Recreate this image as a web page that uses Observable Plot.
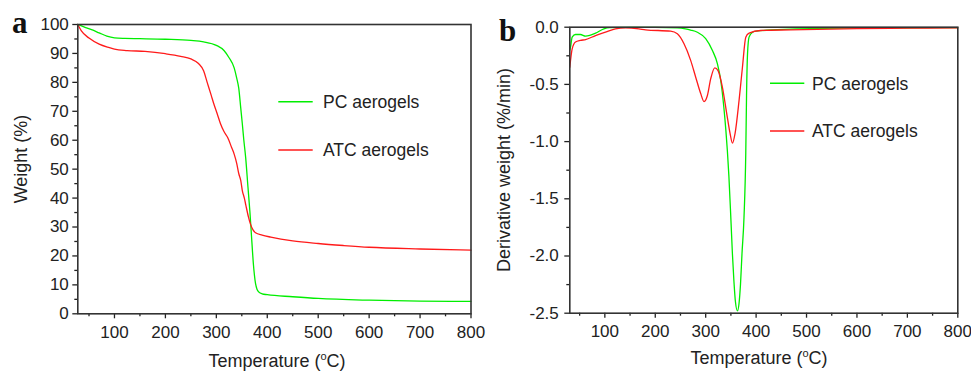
<!DOCTYPE html>
<html><head><meta charset="utf-8">
<script src="https://cdn.jsdelivr.net/npm/d3@7"></script>
<script src="https://cdn.jsdelivr.net/npm/@observablehq/plot@0.6"></script>
<style>
body{margin:0;background:#fff;}
#wrap{position:relative;width:971px;height:371px;font-family:"Liberation Sans",Arial,sans-serif;background:#fff;overflow:hidden;}
#wrap > svg{position:absolute;top:0;margin:0;}
</style></head><body><div id="wrap"></div>
<script>
// ---------- Data ----------
const seriesNames = ["PC aerogels", "ATC aerogels"];
const seriesColors = ["#00ee00", "#ff1a1a"];

// Panel a: TGA weight (%)
const pcTgaT = [28,40,55,70,85,100,120,150,200,250,275,300,315,325,335,340,344,348,351,354,357.6,362,366,369,372.7,377,380,383.7,390,400,450,500,600,700,800];
const pcTgaW = [100,99.2,98.2,97.1,96,95.4,95.2,95.1,94.9,94.5,94,92.8,91,88.5,85,81.5,78,71,65.7,60,54,44,35,27,17.3,10.4,8.4,7.5,6.9,6.6,5.9,5.3,4.7,4.4,4.3];
const atcTgaT = [28,35,50,70,90,100,125,160,200,230,250,265,275,282,290,295,302,308,315,322,330,335,340,344,348,351,355,358,363,367,372,377,390,407,450,500,550,600,700,800];
const atcTgaW = [100,97.8,95.3,93.2,92,91.5,91,90.7,89.9,89,88.1,86.5,84,80,75.5,72.6,69,65.8,63,61,57.5,55.2,52,48.5,46,42.6,40,37.5,33.5,31,29,28,27.2,26.5,25.2,24.3,23.6,23,22.4,22];

// Panel b: derivative weight (%/min)
const pcDtgT = [30.5,31.9,35.2,41.8,51.7,61.7,70,81.6,98,110,150,200,244,260,270,283.5,300,313.4,323.3,330,336,340,343,346,350,353,356,359,363,366,369,372,376,379.5,381,383,386,393,400,468,535,600,700,800];
const pcDtgV = [-0.2,-0.175,-0.087,-0.064,-0.064,-0.078,-0.072,-0.052,-0.014,-0.004,-0.002,-0.002,-0.006,-0.015,-0.025,-0.044,-0.1,-0.204,-0.32,-0.47,-0.7,-0.9,-1.08,-1.3,-1.68,-1.98,-2.22,-2.4,-2.48,-2.42,-2.25,-1.98,-1.66,-1.1,-0.6,-0.23,-0.087,-0.044,-0.035,-0.017,-0.01,-0.007,-0.005,-0.003];
const atcDtgT = [30.5,35.2,41.8,51.7,61.7,81.6,101.4,121.2,141,167.5,180.8,230.5,243.8,257,270.2,280.2,290.1,296.7,303.4,310,318,324.5,333.2,341.8,348.4,353.1,358.2,366.2,372.9,379.5,386.1,409.3,468,600,700,800];
const atcDtgV = [-0.35,-0.19,-0.13,-0.116,-0.108,-0.073,-0.044,-0.014,-0.005,-0.014,-0.023,-0.035,-0.058,-0.145,-0.29,-0.437,-0.58,-0.65,-0.597,-0.45,-0.355,-0.379,-0.525,-0.757,-0.93,-1.014,-0.93,-0.64,-0.35,-0.087,-0.052,-0.029,-0.023,-0.012,-0.008,-0.006];

// Ticks
const xTicks = [100,200,300,400,500,600,700,800];
const xMinorTicks = [50,150,250,350,450,550,650,750];
const yTicksA = [0,10,20,30,40,50,60,70,80,90,100];
const yMinorA = [5,15,25,35,45,55,65,75,85,95];
const yTicksB = [0,-0.5,-1,-1.5,-2,-2.5];
const yMinorB = [-0.25,-0.75,-1.25,-1.75,-2.25];

// ---------- Build ----------
const zip = (xs, ys) => xs.map((x, i) => ({x, y: ys[i]}));
const plotStyle = {background: "transparent", overflow: "visible", fontFamily: "'Liberation Sans', Arial, sans-serif", fontSize: "17px", color: "#222"};

function panel(opts) {
  return Plot.plot({
    width: opts.width, height: 371,
    marginLeft: opts.ml, marginRight: opts.mr, marginTop: opts.mt, marginBottom: opts.mb,
    style: plotStyle,
    x: {domain: opts.xDomain},
    y: {domain: opts.yDomain},
    marks: [
      Plot.line(zip(opts.data[0][0], opts.data[0][1]), {x: "x", y: "y", stroke: seriesColors[0], strokeWidth: 1.3, curve: "monotone-x"}),
      Plot.line(zip(opts.data[1][0], opts.data[1][1]), {x: "x", y: "y", stroke: seriesColors[1], strokeWidth: 1.3, curve: "monotone-x"}),
      Plot.axisX({ticks: xTicks, tickSize: 5, tickPadding: 7, label: null, stroke: "#222", strokeWidth: 1.3, fontSize: 17}),
      Plot.axisX({ticks: xMinorTicks, tickSize: 3, tickFormat: () => "", label: null, stroke: "#222", strokeWidth: 1.3}),
      Plot.axisY({ticks: opts.yTicks, tickSize: 5, tickPadding: opts.yPad, label: null, tickFormat: opts.yFmt, stroke: "#222", strokeWidth: 1.3, fontSize: 17}),
      Plot.axisY({ticks: opts.yMinor, tickSize: 3, tickFormat: () => "", label: null, stroke: "#222", strokeWidth: 1.3}),
      Plot.frame({stroke: "#333", strokeWidth: 1.6})
    ]
  });
}

const wrap = document.getElementById("wrap");

const pa = panel({
  width: 490, ml: 77.3, mr: 19.5, mt: 24, mb: 57.7,
  xDomain: [28, 800], yDomain: [0, 100],
  yTicks: yTicksA, yMinor: yMinorA, yPad: 4, yFmt: d => String(d),
  data: [[pcTgaT, pcTgaW], [atcTgaT, atcTgaW]]
});
pa.style.left = "0px";
wrap.appendChild(pa);

const pb = panel({
  width: 486, ml: 84.3, mr: 13.7, mt: 26.7, mb: 58.3,
  xDomain: [30.5, 800], yDomain: [-2.5, 0],
  yTicks: yTicksB, yMinor: yMinorB, yPad: 6, yFmt: d => d.toFixed(1),
  data: [[pcDtgT, pcDtgV], [atcDtgT, atcDtgV]]
});
pb.style.left = "485px";
wrap.appendChild(pb);

// ---------- Overlay: panel letters, axis titles, legends ----------
const ov = d3.select(wrap).append("svg")
  .attr("width", 971).attr("height", 371)
  .style("left", "0px").style("pointer-events", "none")
  .style("font-family", "'Liberation Sans', Arial, sans-serif").style("fill", "#222");

ov.append("text").attr("x", 12).attr("y", 33).text("a")
  .style("font-family", "'Liberation Serif', 'Times New Roman', serif").style("font-weight", "bold").style("font-size", "31px").style("fill", "#111");
ov.append("text").attr("x", 499).attr("y", 41).text("b")
  .style("font-family", "'Liberation Serif', 'Times New Roman', serif").style("font-weight", "bold").style("font-size", "31px").style("fill", "#111");

function xTitle(cx, y) {
  const t = ov.append("text").attr("x", cx).attr("y", y).attr("text-anchor", "middle").style("font-size", "18px");
  t.append("tspan").text("Temperature (");
  t.append("tspan").attr("dy", -7).style("font-size", "11px").text("o");
  t.append("tspan").attr("dy", 7).text("C)");
}
xTitle(277, 367);
xTitle(759, 364);

ov.append("text").attr("transform", "translate(27,159) rotate(-90)").attr("text-anchor", "middle")
  .style("font-size", "18px").text("Weight (%)");
ov.append("text").attr("transform", "translate(510,170) rotate(-90)").attr("text-anchor", "middle")
  .style("font-size", "18px").text("Derivative weight (%/min)");

function legend(x1, x2, tx, ys) {
  seriesNames.forEach((name, i) => {
    ov.append("line").attr("x1", x1).attr("x2", x2).attr("y1", ys[i]).attr("y2", ys[i])
      .attr("stroke", seriesColors[i]).attr("stroke-width", 1.5);
    ov.append("text").attr("x", tx).attr("y", ys[i] + 6.3).style("font-size", "17.5px").text(name);
  });
}
legend(278.3, 312.7, 323, [101.7, 150]);
legend(770, 804.3, 812, [83.3, 131]);
</script>
</body></html>
